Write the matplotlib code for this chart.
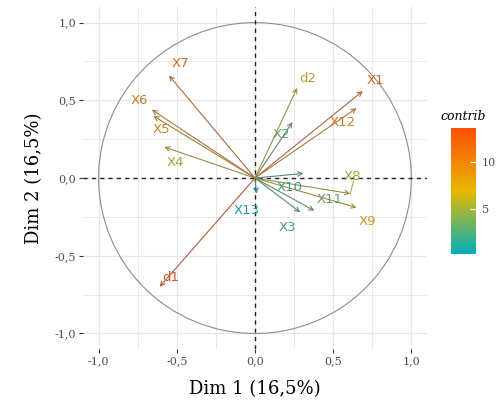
import numpy as np
import matplotlib
matplotlib.use('Agg')
import matplotlib.pyplot as plt
from matplotlib.colors import LinearSegmentedColormap, Normalize
from matplotlib.patches import Circle

plt.rcParams['font.family'] = ['DejaVu Serif']

# variables, coordinates on Dim 1 / Dim 2, contribution
names = ['X1', 'X2', 'X3', 'X4', 'X5', 'X6', 'X7', 'X8', 'X9', 'X10', 'X11', 'X12', 'X13', 'd1', 'd2']
dim1 = [0.69, 0.24, 0.29, -0.58, -0.65, -0.66, -0.55, 0.61, 0.65, 0.31, 0.38, 0.65, 0.01, -0.61, 0.27]
dim2 = [0.56, 0.36, -0.22, 0.20, 0.40, 0.44, 0.66, -0.10, -0.19, 0.03, -0.21, 0.45, -0.10, -0.70, 0.58]
contrib = [12.5, 3.0, 2.1, 6.0, 9.2, 10.0, 11.7, 6.1, 7.3, 1.5, 3.0, 10.0, 0.2, 13.6, 6.5]

# label placement (repelled labels)
label_pos = {
    'X1': (0.77, 0.63), 'X2': (0.17, 0.28), 'X3': (0.21, -0.32), 'X4': (-0.51, 0.10),
    'X5': (-0.60, 0.31), 'X6': (-0.74, 0.50), 'X7': (-0.48, 0.74), 'X8': (0.62, 0.01),
    'X9': (0.72, -0.28), 'X10': (0.22, -0.06), 'X11': (0.48, -0.14), 'X12': (0.56, 0.36),
    'X13': (-0.05, -0.21), 'd1': (-0.54, -0.64), 'd2': (0.34, 0.64),
}

cmap = LinearSegmentedColormap.from_list('contrib', ['#00AFBB', '#E7B800', '#FC4E07'])
norm = Normalize(vmin=min(contrib), vmax=max(contrib))


def muted(c, k, g=0.42):
    r, gg, b, _ = c
    return (r * (1 - k) + g * k, gg * (1 - k) + g * k, b * (1 - k) + g * k)


fig = plt.figure(figsize=(4.97, 4.17), dpi=100)
ax = fig.add_axes([0.167, 0.163, 0.692, 0.820])

ax.set_xlim(-1.1, 1.1)
ax.set_ylim(-1.1, 1.1)

# grid
for v in np.arange(-1.0, 1.01, 0.25):
    lw = 0.9 if abs(v * 2 - round(v * 2)) < 1e-6 else 0.6
    ax.axvline(v, color='#e6e6e6', lw=lw, zorder=0)
    ax.axhline(v, color='#e6e6e6', lw=lw, zorder=0)

ax.add_patch(Circle((0, 0), 1.0, fill=False, color='#8c8c8c', lw=0.8, zorder=1))
ax.axhline(0, color='#222222', ls=(0, (3, 3)), lw=1.0, zorder=1)
ax.axvline(0, color='#222222', ls=(0, (3, 3)), lw=1.0, zorder=1)

for n, x, y, c in zip(names, dim1, dim2, contrib):
    col = cmap(norm(c))
    ax.annotate('', xy=(x, y), xytext=(0, 0),
                arrowprops=dict(arrowstyle='->', color=muted(col, 0.55), lw=0.8,
                                shrinkA=0, shrinkB=0, mutation_scale=8), zorder=2)
    lx, ly = label_pos[n]
    ax.text(lx, ly, n, color=muted(col, 0.3), fontsize=9.5, ha='center', va='center',
            family='DejaVu Sans', zorder=3)

# repel segment for X8
ax.plot([0.63, 0.61], [-0.02, -0.10], color=muted(cmap(norm(6.1)), 0.3), lw=0.7, zorder=2)

for s in ax.spines.values():
    s.set_visible(False)
ticks = [-1.0, -0.5, 0.0, 0.5, 1.0]
ax.set_xticks(ticks)
ax.set_yticks(ticks)
ax.set_xticklabels([f'{t:.1f}'.replace('.', ',') for t in ticks])
ax.set_yticklabels([f'{t:.1f}'.replace('.', ',') for t in ticks])
ax.tick_params(length=3, width=0.8, color='#333333', labelsize=8, labelcolor='#4d4d4d', pad=2)

ax.set_xlabel('Dim 1 (16,5%)', fontsize=13, labelpad=10)
ax.set_ylabel('Dim 2 (16,5%)', fontsize=13, labelpad=8)

# colorbar
cax = fig.add_axes([451 / 497, (417 - 254) / 417, 25 / 497, 126 / 417])
cb = fig.colorbar(plt.cm.ScalarMappable(norm=norm, cmap=cmap), cax=cax)
cb.outline.set_visible(False)
cb.set_ticks([5, 10])
cax.tick_params(length=4, color='white', labelsize=8, labelcolor='#4d4d4d', direction='in', pad=4)
cax.set_title('contrib', fontsize=9, style='italic', pad=6)

fig.savefig('out.png', dpi=100)
